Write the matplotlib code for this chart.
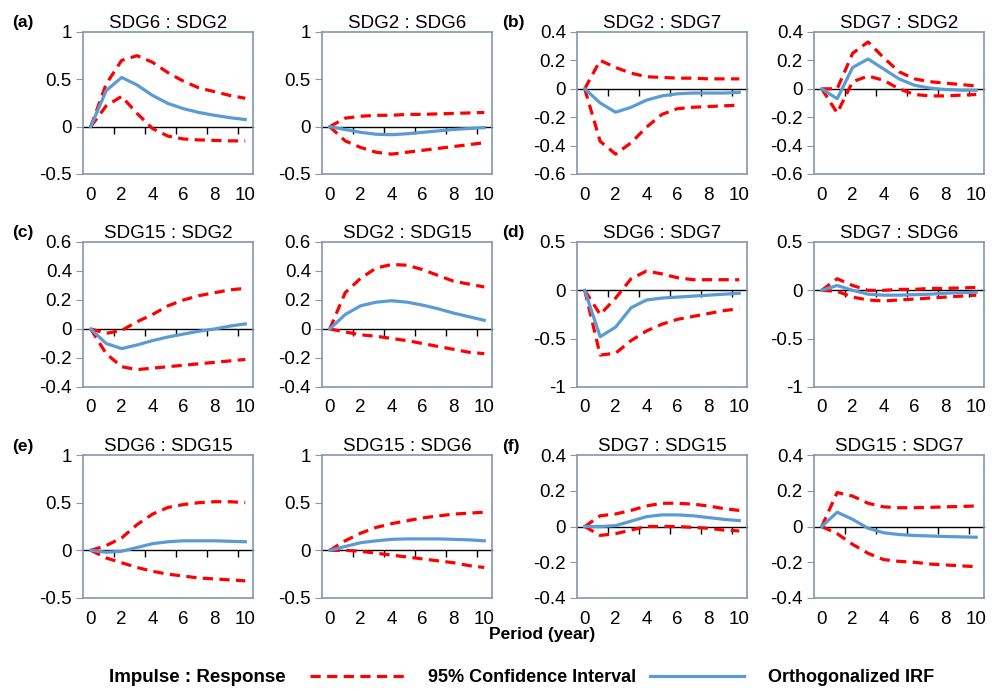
import matplotlib

matplotlib.use("Agg")
import matplotlib.pyplot as plt
from matplotlib.lines import Line2D
from matplotlib.ticker import FuncFormatter

plt.rcParams["font.family"] = ["Liberation Sans", "DejaVu Sans"]

periods = list(range(11))

# (a)
sdg6_sdg2_irf = [0, 0.38, 0.52, 0.44, 0.33, 0.245, 0.19, 0.15, 0.12, 0.095, 0.075]
sdg6_sdg2_hi = [0, 0.45, 0.70, 0.75, 0.68, 0.57, 0.48, 0.41, 0.37, 0.33, 0.30]
sdg6_sdg2_lo = [0, 0.22, 0.32, 0.14, -0.02, -0.10, -0.13, -0.14, -0.145, -0.15, -0.15]
sdg2_sdg6_irf = [0, -0.03, -0.06, -0.08, -0.085, -0.075, -0.06, -0.045, -0.03, -0.02, -0.01]
sdg2_sdg6_hi = [0, 0.09, 0.11, 0.12, 0.12, 0.13, 0.13, 0.135, 0.14, 0.145, 0.15]
sdg2_sdg6_lo = [0, -0.15, -0.22, -0.27, -0.29, -0.27, -0.25, -0.23, -0.21, -0.19, -0.17]
# (b)
sdg2_sdg7_irf = [0, -0.10, -0.165, -0.13, -0.08, -0.05, -0.035, -0.03, -0.03, -0.03, -0.025]
sdg2_sdg7_hi = [0, 0.20, 0.15, 0.11, 0.085, 0.08, 0.075, 0.075, 0.07, 0.07, 0.07]
sdg2_sdg7_lo = [0, -0.37, -0.46, -0.38, -0.27, -0.18, -0.14, -0.13, -0.125, -0.12, -0.115]
sdg7_sdg2_irf = [0, -0.07, 0.15, 0.21, 0.14, 0.07, 0.025, 0.005, -0.005, -0.01, -0.01]
sdg7_sdg2_hi = [0, 0.0, 0.25, 0.33, 0.22, 0.12, 0.07, 0.05, 0.04, 0.03, 0.02]
sdg7_sdg2_lo = [0, -0.17, 0.05, 0.09, 0.06, 0.0, -0.04, -0.05, -0.05, -0.045, -0.04]
# (c)
sdg15_sdg2_irf = [0, -0.10, -0.135, -0.11, -0.08, -0.055, -0.035, -0.015, 0.0, 0.02, 0.035]
sdg15_sdg2_hi = [0, -0.03, -0.01, 0.05, 0.10, 0.16, 0.20, 0.23, 0.25, 0.27, 0.28]
sdg15_sdg2_lo = [0, -0.17, -0.26, -0.28, -0.27, -0.26, -0.25, -0.24, -0.23, -0.22, -0.21]
sdg2_sdg15_irf = [0, 0.10, 0.16, 0.185, 0.195, 0.185, 0.165, 0.14, 0.11, 0.085, 0.06]
sdg2_sdg15_hi = [0, 0.25, 0.35, 0.42, 0.445, 0.44, 0.41, 0.37, 0.33, 0.31, 0.29]
sdg2_sdg15_lo = [0, -0.02, -0.04, -0.05, -0.065, -0.08, -0.10, -0.12, -0.14, -0.16, -0.17]
# (d)
sdg6_sdg7_irf = [0, -0.48, -0.38, -0.18, -0.10, -0.08, -0.07, -0.06, -0.05, -0.04, -0.03]
sdg6_sdg7_hi = [0, -0.25, -0.08, 0.12, 0.20, 0.17, 0.13, 0.11, 0.11, 0.11, 0.11]
sdg6_sdg7_lo = [0, -0.67, -0.65, -0.52, -0.42, -0.35, -0.30, -0.27, -0.24, -0.21, -0.19]
sdg7_sdg6_irf = [0, 0.05, 0.0, -0.04, -0.05, -0.05, -0.045, -0.04, -0.03, -0.025, -0.02]
sdg7_sdg6_hi = [0, 0.12, 0.05, 0.0, 0.0, 0.01, 0.01, 0.02, 0.02, 0.025, 0.03]
sdg7_sdg6_lo = [0, -0.01, -0.07, -0.10, -0.11, -0.10, -0.09, -0.08, -0.07, -0.06, -0.05]
# (e)
sdg6_sdg15_irf = [0, -0.02, -0.01, 0.03, 0.07, 0.09, 0.10, 0.10, 0.10, 0.095, 0.09]
sdg6_sdg15_hi = [0, 0.05, 0.13, 0.27, 0.38, 0.45, 0.48, 0.50, 0.51, 0.51, 0.50]
sdg6_sdg15_lo = [0, -0.08, -0.13, -0.18, -0.22, -0.25, -0.27, -0.29, -0.30, -0.31, -0.32]
sdg15_sdg6_irf = [0, 0.04, 0.08, 0.10, 0.115, 0.12, 0.12, 0.12, 0.115, 0.11, 0.10]
sdg15_sdg6_hi = [0, 0.10, 0.18, 0.24, 0.28, 0.31, 0.34, 0.36, 0.38, 0.39, 0.40]
sdg15_sdg6_lo = [0, 0.0, -0.01, -0.03, -0.05, -0.07, -0.09, -0.11, -0.13, -0.16, -0.18]
# (f)
sdg7_sdg15_irf = [0, 0.0, 0.005, 0.03, 0.055, 0.065, 0.065, 0.06, 0.05, 0.04, 0.033]
sdg7_sdg15_hi = [0, 0.06, 0.07, 0.09, 0.115, 0.13, 0.13, 0.125, 0.115, 0.10, 0.09]
sdg7_sdg15_lo = [0, -0.05, -0.04, -0.02, 0.0, 0.0, 0.0, -0.005, -0.01, -0.02, -0.025]
sdg15_sdg7_irf = [0, 0.08, 0.04, -0.01, -0.035, -0.045, -0.05, -0.053, -0.056, -0.058, -0.06]
sdg15_sdg7_hi = [0, 0.19, 0.17, 0.13, 0.11, 0.105, 0.105, 0.107, 0.11, 0.112, 0.115]
sdg15_sdg7_lo = [0, -0.04, -0.10, -0.15, -0.185, -0.195, -0.20, -0.21, -0.215, -0.22, -0.225]

titles = [
    "SDG6 : SDG2", "SDG2 : SDG6", "SDG2 : SDG7", "SDG7 : SDG2",
    "SDG15 : SDG2", "SDG2 : SDG15", "SDG6 : SDG7", "SDG7 : SDG6",
    "SDG6 : SDG15", "SDG15 : SDG6", "SDG7 : SDG15", "SDG15 : SDG7",
]
irfs = [sdg6_sdg2_irf, sdg2_sdg6_irf, sdg2_sdg7_irf, sdg7_sdg2_irf,
        sdg15_sdg2_irf, sdg2_sdg15_irf, sdg6_sdg7_irf, sdg7_sdg6_irf,
        sdg6_sdg15_irf, sdg15_sdg6_irf, sdg7_sdg15_irf, sdg15_sdg7_irf]
his = [sdg6_sdg2_hi, sdg2_sdg6_hi, sdg2_sdg7_hi, sdg7_sdg2_hi,
       sdg15_sdg2_hi, sdg2_sdg15_hi, sdg6_sdg7_hi, sdg7_sdg6_hi,
       sdg6_sdg15_hi, sdg15_sdg6_hi, sdg7_sdg15_hi, sdg15_sdg7_hi]
los = [sdg6_sdg2_lo, sdg2_sdg6_lo, sdg2_sdg7_lo, sdg7_sdg2_lo,
       sdg15_sdg2_lo, sdg2_sdg15_lo, sdg6_sdg7_lo, sdg7_sdg6_lo,
       sdg6_sdg15_lo, sdg15_sdg6_lo, sdg7_sdg15_lo, sdg15_sdg7_lo]
# y range (lo, hi, step) per panel pair
yranges = [(-0.5, 1, 0.5), (-0.6, 0.4, 0.2), (-0.4, 0.6, 0.2),
           (-1, 0.5, 0.5), (-0.5, 1, 0.5), (-0.4, 0.4, 0.2)]
panel_labels = ["(a)", "(b)", "(c)", "(d)", "(e)", "(f)"]

RED = "#ff0000"
BLUE = "#5b9bd5"
FRAME = "#8596ad"
DASH = (3.2, 2.0)

fig = plt.figure(figsize=(9.92, 6.91), dpi=100)
W, H = 992, 691
col_x = [83, 322, 577, 814]
col_w = 170
row_y = [(32, 174), (242, 387), (455, 598)]

fmt = FuncFormatter(lambda v, _: f"{round(v, 2):g}")

for i, title in enumerate(titles):
    r, c = divmod(i, 4)
    top, bot = row_y[r]
    ax = fig.add_axes([col_x[c] / W, 1 - bot / H, col_w / W, (bot - top) / H])
    lo, hi, step = yranges[r * 2 + c // 2]

    ax.plot(periods, his[i], color=RED, lw=2.3, dashes=DASH, zorder=3)
    ax.plot(periods, los[i], color=RED, lw=2.3, dashes=DASH, zorder=3)
    ax.plot(periods, irfs[i], color=BLUE, lw=2.3, zorder=4)

    ax.set_xlim(-0.5, 10.5)
    ax.set_ylim(lo, hi)
    n = int(round((hi - lo) / step))
    ax.set_yticks([lo + k * step for k in range(n + 1)])
    ax.yaxis.set_major_formatter(fmt)
    ax.set_xticks(periods[::2])
    ax.tick_params(axis="x", length=0, labelsize=13.5, pad=9)
    ax.tick_params(axis="y", length=5, color=FRAME, direction="out", labelsize=13.5, pad=3)
    for s in ax.spines.values():
        s.set_color(FRAME)
        s.set_linewidth(1.2)
    ax.set_title(title, fontsize=13.5, pad=3)

    # zero axis line with category-boundary ticks
    zero = ax.secondary_xaxis((0 - lo) / (hi - lo))
    zero.set_alignment("bottom")
    zero.set_xticks([p + 0.5 for p in periods[1::2]])
    zero.tick_params(length=5, color="black", width=1, direction="out",
                     labelbottom=False, labeltop=False)
    zero.spines["bottom"].set_color("black")
    zero.spines["bottom"].set_linewidth(1)

    if c % 2 == 0:
        fig.text(12 / W if c == 0 else 502 / W, 1 - (top - 9) / H, panel_labels[r * 2 + c // 2],
                 fontsize=12.5, fontweight="bold", va="center", ha="left")

fig.text(542 / W, 1 - 634 / H, "Period (year)", fontsize=12.5, fontweight="bold",
         ha="center", va="center")
fig.text(197 / W, 1 - 677 / H, "Impulse : Response", fontsize=13.5, fontweight="bold",
         ha="center", va="center")

handles = [
    Line2D([], [], color=RED, lw=2.3, dashes=DASH),
    Line2D([], [], color=BLUE, lw=2.3),
]
fig.legend(handles, ["95% Confidence Interval", "Orthogonalized IRF"], ncol=2,
           loc="center", bbox_to_anchor=(622 / W, 1 - 678 / H), frameon=False,
           prop={"weight": "bold", "size": 13}, handlelength=5.2, handletextpad=1.3,
           columnspacing=0.8, borderpad=0, borderaxespad=0)

fig.savefig("out.png", dpi=100)
